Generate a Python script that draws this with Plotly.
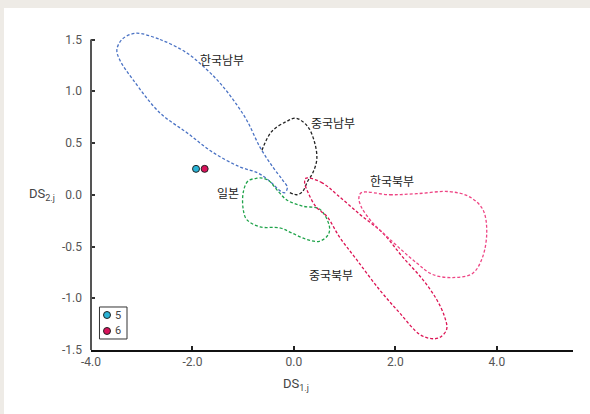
import plotly.graph_objects as go

# ---- data ----
region_names = ["한국남부", "중국남부", "일본", "중국북부", "한국북부"]

kr_south_x = [-3.13, -2.64, -2.11, -1.72, -1.46, -1.20, -0.93, -0.67, -0.42, -0.22, -0.13, -0.18,
              -0.28, -0.45, -0.71, -1.07, -1.60, -2.11, -2.64, -3.17, -3.43, -3.49, -3.39, -3.13]
kr_south_y = [1.56, 1.50, 1.37, 1.21, 1.08, 0.92, 0.72, 0.46, 0.27, 0.14, 0.07, 0.02,
              0.04, 0.12, 0.21, 0.27, 0.41, 0.60, 0.79, 1.11, 1.30, 1.40, 1.50, 1.56]

cn_south_x = [-0.63, -0.44, -0.14, 0.04, 0.27, 0.41, 0.45, 0.37, 0.27, 0.17, 0.06, -0.08]
cn_south_y = [0.43, 0.61, 0.71, 0.74, 0.66, 0.50, 0.34, 0.21, 0.13, 0.03, 0.00, 0.02]

japan_x = [-0.73, -0.91, -1.00, -1.00, -0.93, -0.67, -0.28, -0.04, 0.24, 0.50, 0.67, 0.70,
           0.51, 0.17, -0.14, -0.34, -0.48, -0.61, -0.73]
japan_y = [0.16, 0.13, 0.02, -0.14, -0.24, -0.31, -0.32, -0.37, -0.43, -0.45, -0.39, -0.31,
           -0.14, -0.11, -0.05, 0.05, 0.13, 0.16, 0.16]

cn_north_x = [0.24, 0.54, 0.85, 1.30, 1.75, 2.14, 2.54, 2.81, 2.97, 3.01, 2.87, 2.71, 2.48,
              2.08, 1.69, 1.24, 0.90, 0.65, 0.44, 0.28, 0.21, 0.24]
cn_north_y = [0.16, 0.12, 0.00, -0.19, -0.37, -0.60, -0.82, -1.01, -1.18, -1.30, -1.38, -1.39,
              -1.35, -1.14, -0.92, -0.63, -0.41, -0.21, -0.12, 0.02, 0.12, 0.16]

kr_north_x = [1.33, 1.89, 2.42, 3.07, 3.46, 3.72, 3.80, 3.72, 3.52, 3.13, 2.73, 2.42, 1.89,
              1.55, 1.33, 1.28, 1.33]
kr_north_y = [0.02, 0.00, 0.01, 0.03, -0.02, -0.14, -0.34, -0.60, -0.76, -0.80, -0.77, -0.66,
              -0.43, -0.27, -0.12, -0.03, 0.02]

label_x = [-1.42, 0.76, -1.30, 0.74, 1.93]
label_y = [1.31, 0.70, 0.02, -0.77, 0.135]

point_names = ["5", "6"]
point_x = [-1.93, -1.76]
point_y = [0.25, 0.25]

x_ticks = [-4, -2, 0, 2, 4, 5.5]
x_tick_text = ["-4.0", "-2.0", "0.0", "2.0", "4.0", ""]
y_ticks = [-1.5, -1.0, -0.5, 0.0, 0.5, 1.0, 1.5]
y_tick_text = ["-1.5", "-1.0", "-0.5", "0.0", "0.5", "1.0", "1.5"]

# ---- styles ----
curve_colors = ["#4a72c4", "#222222", "#1fa34a", "#dc1454", "#ee4584"]
point_colors = ["#2ab3d6", "#d8125a"]
FONT = "Liberation Sans Narrow, Roboto, sans-serif"

fig = go.Figure()
curves = [(kr_south_x, kr_south_y), (cn_south_x, cn_south_y), (japan_x, japan_y),
          (cn_north_x, cn_north_y), (kr_north_x, kr_north_y)]
for (cx, cy), name, col in zip(curves, region_names, curve_colors):
    fig.add_trace(go.Scatter(x=cx, y=cy, mode="lines", name=name, showlegend=False,
                             line=dict(color=col, width=1.3, dash="3px,2px",
                                       shape="spline", smoothing=1.0),
                             hoverinfo="skip"))

for name, px_, py_, col in zip(point_names, point_x, point_y, point_colors):
    fig.add_trace(go.Scatter(x=[px_], y=[py_], mode="markers", name=name, showlegend=False,
                             marker=dict(size=7, color=col, line=dict(color="#222", width=1))))

for name, lx, ly in zip(region_names, label_x, label_y):
    fig.add_annotation(x=lx, y=ly, text=name, showarrow=False,
                       font=dict(family="Noto Sans CJK KR", size=12, color="#222"))

shapes = [
    # white panel over grey paper
    dict(type="rect", xref="paper", yref="paper", x0=-0.1805, x1=1.1, y0=-0.3, y1=1.0654,
         fillcolor="white", line=dict(width=0), layer="below"),
    # y axis line ending at 1.5
    dict(type="line", xref="paper", yref="y", x0=0, x1=0, y0=-1.5, y1=1.5,
         line=dict(color="#555", width=2), layer="above"),
    # legend box
    dict(type="rect", xref="paper", yref="paper", x0=0.0176, x1=0.0747, y0=0.0343, y1=0.134,
         fillcolor="white", line=dict(color="#333", width=1), layer="above"),
]
legend_y = [0.109, 0.0592]
for ly, col, name in zip(legend_y, point_colors, point_names):
    shapes.append(dict(type="circle", xref="paper", yref="paper", xsizemode="pixel",
                       ysizemode="pixel", xanchor=0.0332, yanchor=ly, x0=-3.5, x1=3.5,
                       y0=-3.5, y1=3.5, fillcolor=col, line=dict(color="#222", width=1)))
    fig.add_annotation(xref="paper", yref="paper", x=0.0560, y=ly, text=name, showarrow=False,
                       font=dict(family=FONT, size=11, color="#444"),
                       xanchor="center", yanchor="middle")

fig.add_annotation(xref="paper", yref="paper", x=0.395, y=-0.109, text="DS<sub>1.j</sub>",
                   showarrow=False, font=dict(family=FONT, size=13, color="#444"),
                   xanchor="left", yanchor="middle")
fig.add_annotation(xref="paper", yref="paper", x=-0.133, y=0.483, text="DS<sub>2.j</sub>",
                   showarrow=False, font=dict(family=FONT, size=13, color="#444"),
                   xanchor="left", yanchor="middle")

fig.update_layout(
    width=590, height=414,
    margin=dict(l=91, r=17, t=29, b=64),
    paper_bgcolor="#eeebe6", plot_bgcolor="white",
    shapes=shapes, showlegend=False,
    xaxis=dict(range=[-4, 5.5], tickvals=x_ticks, ticktext=x_tick_text,
               ticks="inside", ticklen=4, tickcolor="#222", tickwidth=1.5,
               showline=True, linecolor="#111", linewidth=1.5, showgrid=False,
               zeroline=False, tickfont=dict(family=FONT, size=12, color="#555")),
    yaxis=dict(range=[-1.5, 1.6014], tickvals=y_ticks, ticktext=y_tick_text,
               ticks="inside", ticklen=4, tickcolor="#333", tickwidth=1.5,
               showline=False, showgrid=False,
               zeroline=False, ticklabelstandoff=8,
               tickfont=dict(family=FONT, size=12, color="#555")),
)

fig.write_html("out.html")
